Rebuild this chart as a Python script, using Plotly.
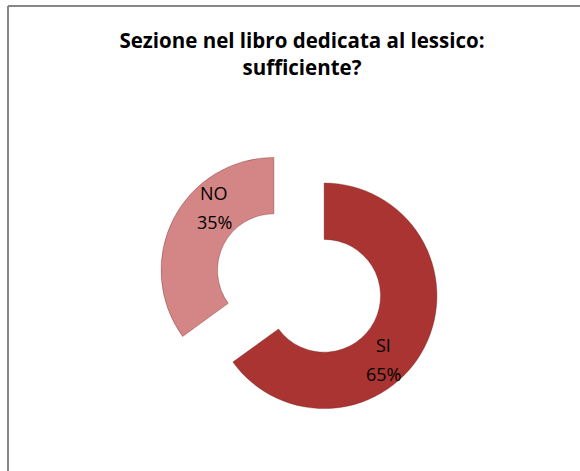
import math
import plotly.graph_objects as go

labels = ["SI", "NO"]
values = [65, 35]
colors = ["#A93431", "#D48585"]
title_text = "Sezione nel libro dedicata al lessico:<br>sufficiente?"

W, H = 580, 471
cx, cy = 299, 283     # pie centre in pixels
half = 141            # half box size
pull = 0.25

fig = go.Figure(go.Pie(
    labels=labels,
    values=values,
    hole=0.5,
    sort=False,
    direction="clockwise",
    rotation=0,
    pull=[pull] * len(values),
    marker=dict(colors=colors, line=dict(color="rgba(110,30,30,0.35)", width=1)),
    textinfo="none",
    showlegend=False,
    hoverinfo="label+percent",
    domain=dict(x=[(cx - half) / W, (cx + half) / W],
                y=[1 - (cy + half) / H, 1 - (cy - half) / H]),
))

# data labels placed from the slice angles
total = sum(values)
annotations = []
start = 0.0
lab_r = 114
for lab, v in zip(labels, values):
    frac = v / total
    mid = (start + frac / 2) * 360 + 15
    start += frac
    a = math.radians(mid)
    px = cx + lab_r * math.sin(a)
    py = cy - lab_r * math.cos(a)
    for txt, dy in ((lab, -14), (f"{round(frac * 100)}%", 15)):
        annotations.append(dict(
            text=txt, x=px / W, y=1 - (py + dy) / H, xref="paper", yref="paper",
            xanchor="center", yanchor="middle", showarrow=False,
            font=dict(family="Open Sans", size=18, color="#000000")))

fig.update_layout(
    width=W, height=H,
    margin=dict(l=0, r=0, t=0, b=0),
    paper_bgcolor="white",
    plot_bgcolor="white",
    title=dict(text=title_text, x=302 / W, xanchor="center",
               y=1 - 48 / H, yanchor="middle",
               font=dict(family="Open Sans", size=20.5, color="#000000", weight="bold")),
    annotations=annotations,
    shapes=[
        dict(type="line", xref="paper", yref="paper",
             x0=8 / W, x1=8 / W, y0=0, y1=1 - 6 / H,
             line=dict(color="#868686", width=2)),
        dict(type="line", xref="paper", yref="paper",
             x0=8 / W, x1=1, y0=1 - 6 / H, y1=1 - 6 / H,
             line=dict(color="#868686", width=2)),
    ],
)

fig.write_html("out.html")
